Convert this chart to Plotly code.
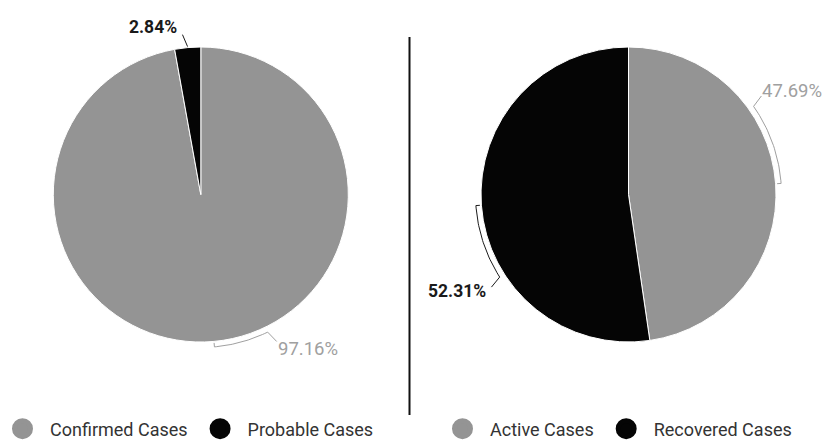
import math
import plotly.graph_objects as go

# ---------------- data ----------------
left_labels = ["Confirmed Cases", "Probable Cases"]
left_values = [97.16, 2.84]
right_labels = ["Active Cases", "Recovered Cases"]
right_values = [47.69, 52.31]
slice_colors = ["#949494", "#050505"]
label_colors = ["#a0a0a0", "#1a1a1a"]
label_bold = [False, True]
label_sizes = [18.5, 17.5]

# ---------------- layout constants (pixels) ----------------
W, H = 825, 441
R = 147.5
centers = [(200.8, 194.5), (628.5, 194.5)]
bracket_span = [[20.8, 0], [31, 28.5]]   # degrees of bracket arc per slice (style)
LEADER_ROT = -18
LEADER_LEN = 13
FONT = "Roboto, sans-serif"

fig = go.Figure()


def px_dom(cx, cy, r):
    return dict(x=[(cx - r) / W, (cx + r) / W], y=[1 - (cy + r) / H, 1 - (cy - r) / H])


for (cx, cy), labels, values in zip(centers, [left_labels, right_labels], [left_values, right_values]):
    fig.add_trace(go.Pie(
        labels=labels, values=values, sort=False, direction="clockwise", rotation=0,
        marker=dict(colors=slice_colors, line=dict(color="white", width=1)),
        textinfo="none", hoverinfo="label+percent", showlegend=False,
        domain=px_dom(cx, cy, R),
    ))

# brackets + labels drawn in a pixel-space overlay axis
annotations = []
for pi, ((cx, cy), values) in enumerate(zip(centers, [left_values, right_values])):
    total = sum(values)
    start = 0.0
    for si, v in enumerate(values):
        ang = v / total * 360
        mid = start + ang / 2
        span = bracket_span[pi][si]
        rb = R + 5.5
        col = label_colors[si]

        def pt(a, r):
            t = math.radians(a)
            return cx + r * math.sin(t), cy - r * math.cos(t)
        xs, ys = [], []
        if span > 0:
            x0, y0 = pt(mid, R + 1.5)
            xs.append(x0); ys.append(y0)
            n = 30
            for k in range(n + 1):
                a = mid - span * k / n
                x, y = pt(a, rb)
                xs.append(x); ys.append(y)
            far = mid - span
        else:
            far = mid
            x, y = pt(far, R + 1)
            xs.append(x); ys.append(y)
        lx, ly = xs[-1], ys[-1]
        d = math.radians(far + LEADER_ROT)
        x1, y1 = lx + LEADER_LEN * math.sin(d), ly - LEADER_LEN * math.cos(d)
        xs.append(x1); ys.append(y1)
        fig.add_trace(go.Scatter(x=xs, y=ys, mode="lines", line=dict(color=col, width=1),
                                 xaxis="x", yaxis="y", showlegend=False, hoverinfo="skip"))
        t = math.radians(far)
        s, c = math.sin(t), math.cos(t)
        txt = f"{v:.2f}%"
        if label_bold[si]:
            txt = f"<b>{txt}</b>"
        annotations.append(dict(
            x=x1, y=y1 - 8 * c, xref="x", yref="y", text=txt, showarrow=False,
            xanchor="left" if s > 0.05 else "right",
            yanchor="middle",
            xshift=-1 if s > 0 else -3,
            font=dict(family=FONT, size=label_sizes[si], color=col),
        ))
        start += ang

# legend entries (circle markers)
for li, (labels, lg) in enumerate([(left_labels, "legend"), (right_labels, "legend2")]):
    for k, lab in enumerate(labels):
        fig.add_trace(go.Scatter(
            x=[None], y=[None], mode="markers", name=lab, legend=lg,
            marker=dict(color=slice_colors[k], size=16, line=dict(color=slice_colors[k], width=5)),
            xaxis="x", yaxis="y",
        ))

leg_common = dict(orientation="h", yanchor="middle", y=1 - 429 / H, xanchor="left",
                  font=dict(size=18, family=FONT, color="#333333"), itemwidth=45,
                  bgcolor="rgba(0,0,0,0)", borderwidth=0)

fig.update_layout(
    width=W, height=H, margin=dict(l=0, r=0, t=0, b=0, autoexpand=False),
    paper_bgcolor="white", plot_bgcolor="rgba(0,0,0,0)",
    font=dict(family=FONT, color="#222222"),
    xaxis=dict(range=[0, W], visible=False, fixedrange=True, domain=[0, 1]),
    yaxis=dict(range=[H, 0], visible=False, fixedrange=True, domain=[0, 1]),
    annotations=annotations,
    shapes=[dict(type="line", xref="x", yref="y", x0=409.5, x1=409.5, y0=37, y1=415,
                 line=dict(color="#111111", width=2))],
    legend=dict(x=-5 / W, **leg_common),
    legend2=dict(x=435 / W, **leg_common),
)

fig.write_html("out.html")
